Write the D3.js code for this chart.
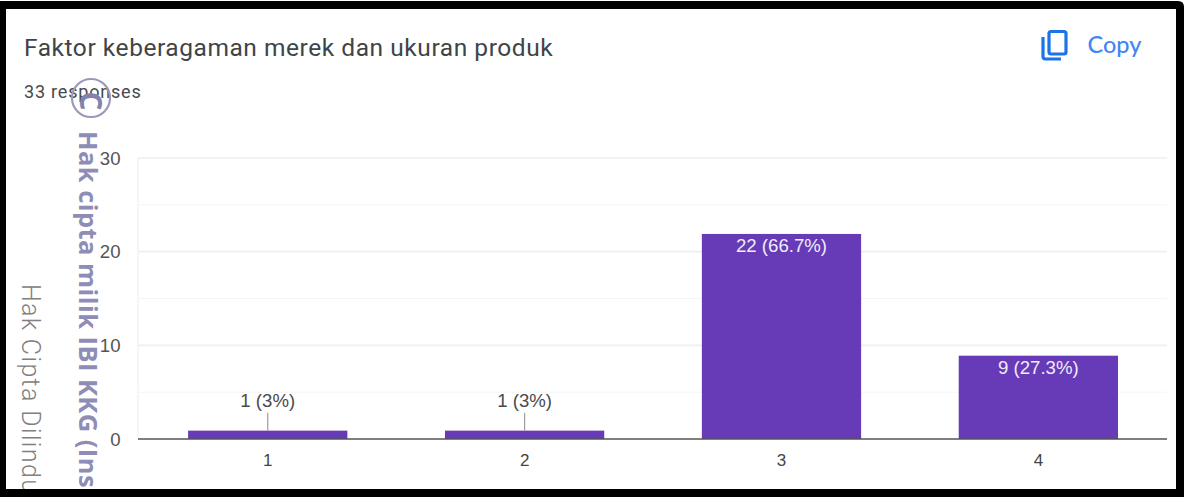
<!DOCTYPE html>
<html>
<head>
<meta charset="utf-8">
<script src="https://cdn.jsdelivr.net/npm/d3@7"></script>
<style>
html,body{margin:0;padding:0;background:#fff;overflow:hidden}
svg{display:block}
</style>
</head>
<body>
<svg id="c" width="1187" height="497"></svg>
<script>
const categories = ["1","2","3","4"];
const values = [1,1,22,9];
const labels = ["1 (3%)","1 (3%)","22 (66.7%)","9 (27.3%)"];
const majorTicks = [0,10,20,30];
const minorTicks = [5,15,25];
const titleText = "Faktor keberagaman merek dan ukuran produk";
const subtitleText = "33 responses";
const copyText = "Copy";
const watermarkBold = "Hak cipta milik IBI KKG (Ins";
const watermarkLight = "Hak Cipta Dilindu";

const svg = d3.select("#c");
const font = "Roboto, Arial, sans-serif";
const chartFont = "'Liberation Sans', Arial, sans-serif";

svg.append("path").attr("d","M0 1H1178Q1184 1 1184 7V497H0Z").attr("fill","#000");
svg.append("rect").attr("x",6).attr("y",9).attr("width",1170).attr("height",480).attr("fill","#fff");

const x = d3.scaleBand().domain(categories).range([139.5,1167]).paddingInner(0.38).paddingOuter(0.19);
const y = d3.scaleLinear().domain([0,30]).range([439,158]);

const g = svg.append("g");
g.selectAll("line.minor").data(minorTicks).join("line").attr("class","minor")
 .attr("x1",138).attr("x2",1167).attr("y1",d=>y(d)).attr("y2",d=>y(d))
 .attr("stroke","#f5f5f5").attr("stroke-width",1);
g.selectAll("line.major").data(majorTicks.filter(d=>d>0)).join("line").attr("class","major")
 .attr("x1",138).attr("x2",1167).attr("y1",d=>y(d)).attr("y2",d=>y(d))
 .attr("stroke","#efeff1").attr("stroke-width",1.6);
g.append("line").attr("x1",138).attr("x2",138).attr("y1",158).attr("y2",439).attr("stroke","#f3f3f5").attr("stroke-width",1.5);

g.selectAll("rect.bar").data(values).join("rect").attr("class","bar")
 .attr("x",(d,i)=>x(categories[i])-0.2).attr("width",x.bandwidth())
 .attr("y",d=>y(d)+1).attr("height",d=>y(0)-y(d)-1).attr("fill","#673ab7");

g.append("line").attr("x1",138).attr("x2",1167).attr("y1",y(0)).attr("y2",y(0)).attr("stroke","#555").attr("stroke-width",1.6);

const cx = i=>x(categories[i])+x.bandwidth()/2-0.2;
values.forEach((v,i)=>{
  if(v<3){
    g.append("line").attr("x1",cx(i)).attr("x2",cx(i)).attr("y1",y(v)+1).attr("y2",y(v)-17).attr("stroke","#9e9e9e").attr("stroke-width",1.2);
    g.append("text").attr("x",cx(i)).attr("y",y(v)-23).attr("text-anchor","middle")
     .attr("font-family",chartFont).attr("font-size",18.6).attr("fill","#4a4a4a").text(labels[i]);
  } else {
    g.append("text").attr("x",cx(i)).attr("y",y(v)+19.5).attr("text-anchor","middle")
     .attr("font-family",chartFont).attr("font-size",18.6).attr("fill","#f1ecfa").text(labels[i]);
  }
});
majorTicks.forEach(t=>{
  g.append("text").attr("x",120.5).attr("y",y(t)+6.5).attr("text-anchor","end")
   .attr("font-family",chartFont).attr("font-size",18.6).attr("fill","#555").text(t);
});
categories.forEach((c,i)=>{
  g.append("text").attr("x",cx(i)).attr("y",465.5).attr("text-anchor","middle")
   .attr("font-family",chartFont).attr("font-size",17).attr("fill","#444").text(c);
});

svg.append("text").attr("x",24).attr("y",56).attr("font-family",font).attr("font-size",24.5).attr("letter-spacing",0.55).attr("fill","#3f4448").text(titleText);
svg.append("text").attr("x",24).attr("y",97.5).attr("font-family",font).attr("font-size",18).attr("letter-spacing",0.8).attr("fill","#454a4e").text(subtitleText);
svg.append("text").attr("x",1087.5).attr("y",53).attr("font-family","Lato, Roboto, sans-serif").attr("font-weight",500).attr("font-size",23.5).attr("fill","#4285f4").text(copyText);

const icon = svg.append("g").attr("fill","none").attr("stroke","#1a73e8").attr("stroke-width",3.2);
icon.append("rect").attr("x",1049).attr("y",31.5).attr("width",17).attr("height",22.5).attr("rx",2);
icon.append("path").attr("d","M1043 37V56.5Q1043 59 1045.5 59H1061");

const wm = svg.append("g").attr("clip-path","url(#frame)");
svg.append("defs").append("clipPath").attr("id","frame").append("rect").attr("x",6).attr("y",9).attr("width",1170).attr("height",480);
wm.append("circle").attr("cx",91).attr("cy",98).attr("r",19).attr("fill","none").attr("stroke","#9a99bd").attr("stroke-width",2.2);
wm.append("text").attr("transform","translate(90,101) rotate(90)").attr("text-anchor","middle").attr("dy","0.35em")
  .attr("font-family","'Open Sans', sans-serif").attr("font-weight",700).attr("font-size",30).attr("fill","#8482ad").text("C");
wm.append("text").attr("transform","translate(79,131) rotate(90)").attr("font-family","'Open Sans', sans-serif").attr("font-weight",700).attr("font-size",25.5).attr("letter-spacing",0.45).attr("fill","#8e8db5").text(watermarkBold);
wm.append("text").attr("transform","translate(22,284) rotate(90)").attr("font-family",font).attr("font-weight",300).attr("font-size",25).attr("letter-spacing",1.35).attr("fill","#808080").text(watermarkLight);
</script>
</body>
</html>
